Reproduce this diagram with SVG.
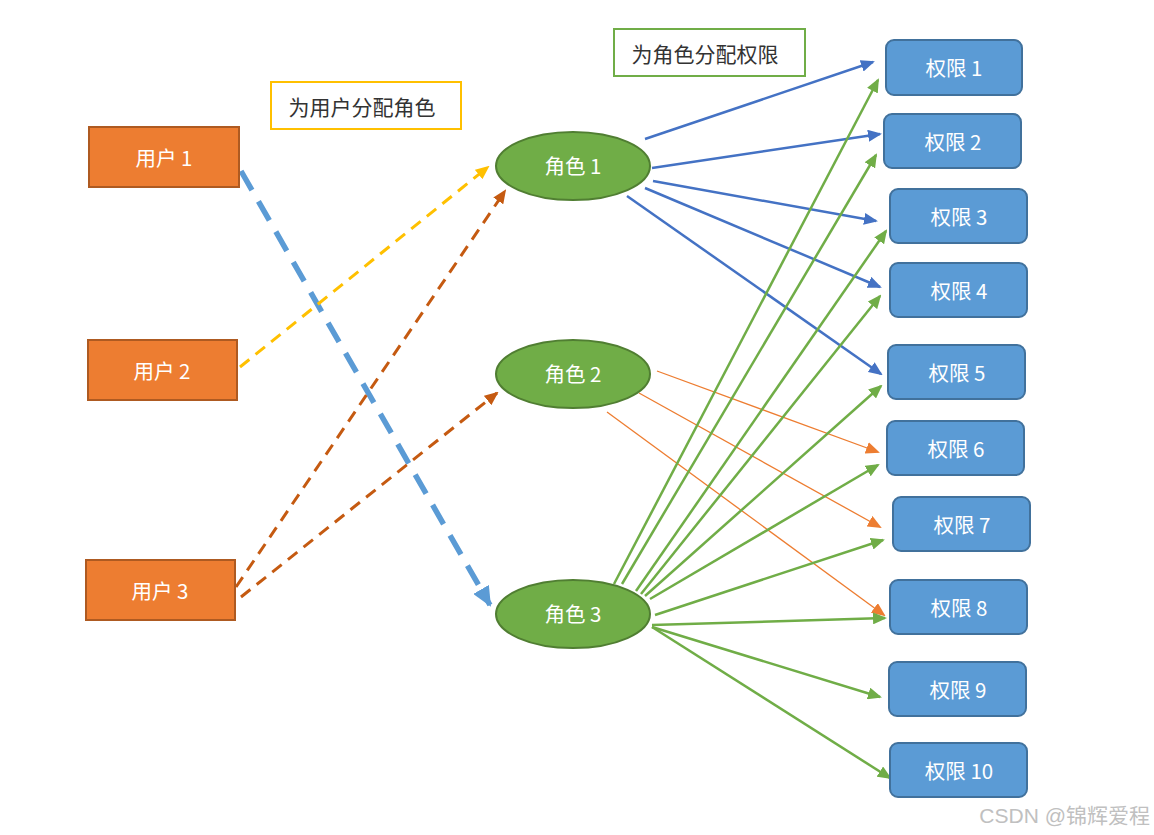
<svg xmlns="http://www.w3.org/2000/svg" width="1154" height="835" viewBox="0 0 1154 835">
<defs>
<style>
.user rect{fill:#ED7D31;stroke:#AE5A21;stroke-width:2}
.role ellipse{fill:#70AD47;stroke:#507E32;stroke-width:2}
.perm rect{fill:#5B9BD5;stroke:#41719C;stroke-width:2}
.nt{fill:#fff;font-family:"Noto Sans CJK SC","Liberation Sans",sans-serif;font-size:20.5px;text-anchor:middle;dominant-baseline:central}
.lt{fill:#333;font-family:"Noto Sans CJK SC","Liberation Sans",sans-serif;font-size:21px;text-anchor:middle;dominant-baseline:central}
.b{stroke:#4472C4;stroke-width:2.5;fill:none;marker-end:url(#ab)}
.g{stroke:#70AD47;stroke-width:2.5;fill:none;marker-end:url(#ag)}
.o{stroke:#ED7D31;stroke-width:1.3;fill:none;marker-end:url(#ao)}
</style>
<marker id="ab" viewBox="0 0 14 12" refX="12" refY="6" markerWidth="14" markerHeight="12" markerUnits="userSpaceOnUse" orient="auto"><path d="M0,0L14,6L0,12z" fill="#4472C4"/></marker>
<marker id="ag" viewBox="0 0 14 12" refX="12" refY="6" markerWidth="14" markerHeight="12" markerUnits="userSpaceOnUse" orient="auto"><path d="M0,0L14,6L0,12z" fill="#70AD47"/></marker>
<marker id="ao" viewBox="0 0 14 12" refX="12" refY="6" markerWidth="14" markerHeight="12" markerUnits="userSpaceOnUse" orient="auto"><path d="M0,0L14,6L0,12z" fill="#ED7D31"/></marker>
<marker id="ay" viewBox="0 0 14 12" refX="12" refY="6" markerWidth="14" markerHeight="12" markerUnits="userSpaceOnUse" orient="auto"><path d="M0,0L14,6L0,12z" fill="#FFC000"/></marker>
<marker id="ar" viewBox="0 0 14 12" refX="12" refY="6" markerWidth="14" markerHeight="12" markerUnits="userSpaceOnUse" orient="auto"><path d="M0,0L14,6L0,12z" fill="#C55A11"/></marker>
<marker id="al" viewBox="0 0 20 18" refX="18" refY="9" markerWidth="20" markerHeight="18" markerUnits="userSpaceOnUse" orient="auto"><path d="M0,0L20,9L0,18z" fill="#5B9BD5"/></marker>
</defs>
<rect width="1154" height="835" fill="#fff"/>

<g id="label-user-role"><rect x="271" y="82" width="190" height="47" fill="#fff" stroke="#FFC000" stroke-width="2"/><text class="lt" x="362" y="106">为用户分配角色</text></g>
<g id="label-role-perm"><rect x="614" y="29" width="191" height="47" fill="#fff" stroke="#70AD47" stroke-width="2"/><text class="lt" x="705" y="53">为角色分配权限</text></g>

<g id="connectors">
<line x1="241" y1="171" x2="490" y2="605" stroke="#5B9BD5" stroke-width="5.5" stroke-dasharray="22 13" marker-end="url(#al)"/>
<line x1="240" y1="367" x2="488" y2="167" stroke="#FFC000" stroke-width="3" stroke-dasharray="12 8" marker-end="url(#ay)"/>
<line x1="236" y1="587" x2="505" y2="191" stroke="#C55A11" stroke-width="3" stroke-dasharray="12 8" marker-end="url(#ar)"/>
<line x1="241" y1="597" x2="497" y2="393" stroke="#C55A11" stroke-width="3" stroke-dasharray="12 8" marker-end="url(#ar)"/>

<line class="b" x1="645" y1="139" x2="873" y2="62"/>
<line class="b" x1="652" y1="168" x2="880" y2="134"/>
<line class="b" x1="653" y1="181" x2="876" y2="221"/>
<line class="b" x1="645" y1="188" x2="880" y2="287"/>
<line class="b" x1="627" y1="196" x2="881" y2="374"/>

<line class="o" x1="657" y1="371" x2="878" y2="452"/>
<line class="o" x1="639" y1="393" x2="880" y2="527"/>
<line class="o" x1="607" y1="412" x2="884" y2="615"/>

<line class="g" x1="614" y1="584" x2="878" y2="80"/>
<line class="g" x1="622" y1="584" x2="876" y2="155"/>
<line class="g" x1="636" y1="591" x2="886" y2="231"/>
<line class="g" x1="641" y1="594" x2="880" y2="296"/>
<line class="g" x1="645" y1="596" x2="881" y2="386"/>
<line class="g" x1="650" y1="599" x2="878" y2="465"/>
<line class="g" x1="655" y1="615" x2="883" y2="540"/>
<line class="g" x1="652" y1="625" x2="885" y2="618"/>
<line class="g" x1="652" y1="627" x2="880" y2="697"/>
<line class="g" x1="652" y1="627" x2="890" y2="778"/>
</g>

<g id="user1" class="user"><rect x="89" y="127" width="150" height="60"/><text class="nt" x="164" y="157">用户 1</text></g>
<g id="user2" class="user"><rect x="88" y="340" width="149" height="60"/><text class="nt" x="162" y="370">用户 2</text></g>
<g id="user3" class="user"><rect x="86" y="560" width="149" height="60"/><text class="nt" x="160" y="590">用户 3</text></g>

<g id="role1" class="role"><ellipse cx="573" cy="166" rx="77" ry="34"/><text class="nt" x="573" y="165">角色 1</text></g>
<g id="role2" class="role"><ellipse cx="573" cy="374" rx="77" ry="34"/><text class="nt" x="573" y="373">角色 2</text></g>
<g id="role3" class="role"><ellipse cx="573" cy="614" rx="77" ry="34"/><text class="nt" x="573" y="613">角色 3</text></g>

<g id="perm1" class="perm"><rect x="886" y="40" width="136" height="55" rx="8"/><text class="nt" x="954" y="67">权限 1</text></g>
<g id="perm2" class="perm"><rect x="884" y="114" width="137" height="54" rx="8"/><text class="nt" x="953" y="141">权限 2</text></g>
<g id="perm3" class="perm"><rect x="890" y="189" width="137" height="54" rx="8"/><text class="nt" x="959" y="216">权限 3</text></g>
<g id="perm4" class="perm"><rect x="890" y="263" width="137" height="54" rx="8"/><text class="nt" x="959" y="290">权限 4</text></g>
<g id="perm5" class="perm"><rect x="888" y="345" width="137" height="54" rx="8"/><text class="nt" x="957" y="372">权限 5</text></g>
<g id="perm6" class="perm"><rect x="887" y="421" width="137" height="54" rx="8"/><text class="nt" x="956" y="448">权限 6</text></g>
<g id="perm7" class="perm"><rect x="893" y="497" width="137" height="54" rx="8"/><text class="nt" x="962" y="524">权限 7</text></g>
<g id="perm8" class="perm"><rect x="890" y="580" width="137" height="54" rx="8"/><text class="nt" x="959" y="607">权限 8</text></g>
<g id="perm9" class="perm"><rect x="889" y="662" width="137" height="54" rx="8"/><text class="nt" x="958" y="689">权限 9</text></g>
<g id="perm10" class="perm"><rect x="890" y="743" width="137" height="54" rx="8"/><text class="nt" x="959" y="770">权限 10</text></g>

<text x="1150" y="815" fill="#c0c0c0" font-family="'Liberation Sans','Noto Sans CJK SC',sans-serif" font-size="21" text-anchor="end" dominant-baseline="central">CSDN @锦辉爱程</text>
</svg>
